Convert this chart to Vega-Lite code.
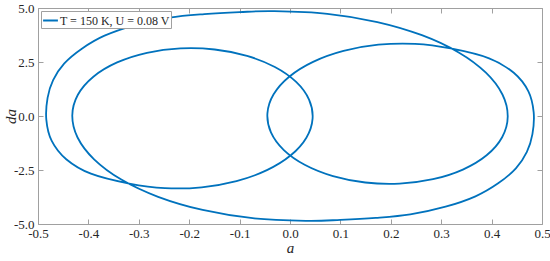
{
  "$schema": "https://vega.github.io/schema/vega-lite/v6.json",
  "width": 504,
  "height": 216,
  "autosize": {"type": "none"},
  "padding": {"left": 38, "top": 8, "right": 8, "bottom": 37},
  "background": "white",
  "config": {
    "view": {"stroke": null},
    "font": "Liberation Serif, Times New Roman, serif",
    "axis": {
      "domainColor": "#a0a0a0",
      "tickColor": "#a0a0a0",
      "labelColor": "#262626",
      "titleColor": "#262626",
      "labelFont": "Liberation Serif, Times New Roman, serif",
      "titleFont": "Liberation Serif, Times New Roman, serif",
      "labelFontSize": 13,
      "titleFontSize": 15,
      "titleFontWeight": "normal",
      "titleFontStyle": "italic",
      "grid": false,
      "tickSize": -5,
      "domainWidth": 1,
      "tickWidth": 1
    }
  },
  "data": {
    "values": [
      {"i": 1, "a": -0.481, "da": 0.842},
      {"i": 2, "a": -0.47, "da": 1.659},
      {"i": 3, "a": -0.4482, "da": 2.4255},
      {"i": 4, "a": -0.413, "da": 3.1176},
      {"i": 5, "a": -0.368, "da": 3.72},
      {"i": 6, "a": -0.3087, "da": 4.2},
      {"i": 7, "a": -0.2387, "da": 4.557},
      {"i": 8, "a": -0.17, "da": 4.72},
      {"i": 9, "a": -0.1, "da": 4.81},
      {"i": 10, "a": -0.031, "da": 4.851},
      {"i": 11, "a": 0.0741, "da": 4.729},
      {"i": 12, "a": 0.1733, "da": 4.35},
      {"i": 13, "a": 0.2617, "da": 3.741},
      {"i": 14, "a": 0.3347, "da": 2.942},
      {"i": 15, "a": 0.3887, "da": 2.005},
      {"i": 16, "a": 0.4215, "da": 0.995},
      {"i": 17, "a": 0.432, "da": -0.023},
      {"i": 18, "a": 0.4209, "da": -0.982},
      {"i": 19, "a": 0.3901, "da": -1.819},
      {"i": 20, "a": 0.343, "da": -2.48},
      {"i": 21, "a": 0.2838, "da": -2.926},
      {"i": 22, "a": 0.2175, "da": -3.128},
      {"i": 23, "a": 0.1494, "da": -3.078},
      {"i": 24, "a": 0.0853, "da": -2.783},
      {"i": 25, "a": 0.03, "da": -2.27},
      {"i": 26, "a": -0.0122, "da": -1.578},
      {"i": 27, "a": -0.0378, "da": -0.76},
      {"i": 28, "a": -0.0448, "da": 0.123},
      {"i": 29, "a": -0.0325, "da": 1.005},
      {"i": 30, "a": -0.0016, "da": 1.82},
      {"i": 31, "a": 0.0458, "da": 2.508},
      {"i": 32, "a": 0.1062, "da": 3.014},
      {"i": 33, "a": 0.1753, "da": 3.3},
      {"i": 34, "a": 0.2481, "da": 3.34},
      {"i": 35, "a": 0.3189, "da": 3.127},
      {"i": 36, "a": 0.395, "da": 2.67},
      {"i": 37, "a": 0.444, "da": 2.0},
      {"i": 38, "a": 0.473, "da": 1.14},
      {"i": 39, "a": 0.4835, "da": 0.164},
      {"i": 40, "a": 0.481, "da": -0.842},
      {"i": 41, "a": 0.47, "da": -1.659},
      {"i": 42, "a": 0.4482, "da": -2.4255},
      {"i": 43, "a": 0.413, "da": -3.1176},
      {"i": 44, "a": 0.368, "da": -3.72},
      {"i": 45, "a": 0.3087, "da": -4.2},
      {"i": 46, "a": 0.2387, "da": -4.557},
      {"i": 47, "a": 0.17, "da": -4.72},
      {"i": 48, "a": 0.1, "da": -4.81},
      {"i": 49, "a": 0.031, "da": -4.851},
      {"i": 50, "a": -0.0741, "da": -4.729},
      {"i": 51, "a": -0.1733, "da": -4.35},
      {"i": 52, "a": -0.2617, "da": -3.741},
      {"i": 53, "a": -0.3347, "da": -2.942},
      {"i": 54, "a": -0.3887, "da": -2.005},
      {"i": 55, "a": -0.4215, "da": -0.995},
      {"i": 56, "a": -0.432, "da": 0.023},
      {"i": 57, "a": -0.4209, "da": 0.982},
      {"i": 58, "a": -0.3901, "da": 1.819},
      {"i": 59, "a": -0.343, "da": 2.48},
      {"i": 60, "a": -0.2838, "da": 2.926},
      {"i": 61, "a": -0.2175, "da": 3.128},
      {"i": 62, "a": -0.1494, "da": 3.078},
      {"i": 63, "a": -0.0853, "da": 2.783},
      {"i": 64, "a": -0.03, "da": 2.27},
      {"i": 65, "a": 0.0122, "da": 1.578},
      {"i": 66, "a": 0.0378, "da": 0.76},
      {"i": 67, "a": 0.0448, "da": -0.123},
      {"i": 68, "a": 0.0325, "da": -1.005},
      {"i": 69, "a": 0.0016, "da": -1.82},
      {"i": 70, "a": -0.0458, "da": -2.508},
      {"i": 71, "a": -0.1062, "da": -3.014},
      {"i": 72, "a": -0.1753, "da": -3.3},
      {"i": 73, "a": -0.2481, "da": -3.34},
      {"i": 74, "a": -0.3189, "da": -3.127},
      {"i": 75, "a": -0.395, "da": -2.67},
      {"i": 76, "a": -0.444, "da": -2.0},
      {"i": 77, "a": -0.473, "da": -1.14},
      {"i": 78, "a": -0.4835, "da": -0.164}
    ]
  },
  "layer": [
    {
      "mark": {"type": "line", "interpolate": "cardinal-closed", "tension": 0, "strokeWidth": 1.8},
      "encoding": {
        "x": {
          "field": "a", "type": "quantitative",
          "scale": {"domain": [-0.5, 0.5], "nice": false, "zero": false},
          "axis": {"orient": "bottom", "values": [-0.5, -0.4, -0.3, -0.2, -0.1, 0, 0.1, 0.2, 0.3, 0.4, 0.5], "labelExpr": "replace(format(datum.value, '.1f'), '\u2212', '-')", "labelPadding": 8, "title": "a", "titlePadding": 0, "labelFlush": false}
        },
        "y": {
          "field": "da", "type": "quantitative",
          "scale": {"domain": [-5, 5], "nice": false, "zero": false},
          "axis": {"orient": "left", "values": [-5, -2.5, 0, 2.5, 5], "labelExpr": "replace(format(datum.value, '.1f'), '\u2212', '-')", "labelPadding": 9, "title": "da", "titleX": -28, "titleY": 108, "titleAngle": -90, "titleAlign": "center", "titleBaseline": "middle", "labelFlush": false}
        },
        "order": {"field": "i", "type": "quantitative"},
        "color": {
          "datum": "T = 150 K, U = 0.08 V",
          "scale": {"range": ["#0072BD"]},
          "legend": {
            "title": null, "orient": "top-left", "offset": 3,
            "symbolType": "stroke", "symbolStrokeWidth": 2, "symbolSize": 220,
            "labelFont": "Liberation Serif, Times New Roman, serif", "labelFontSize": 12, "labelColor": "#262626",
            "labelOffset": 1, "strokeColor": "#a0a0a0", "fillColor": "white", "padding": 1
          }
        }
      }
    },
    {
      "mark": {"type": "line", "opacity": 0},
      "encoding": {
        "x": {"field": "a", "type": "quantitative", "axis": {"orient": "top", "values": [-0.5, -0.4, -0.3, -0.2, -0.1, 0, 0.1, 0.2, 0.3, 0.4, 0.5], "labels": false, "title": null}},
        "y": {"field": "da", "type": "quantitative", "axis": {"orient": "right", "values": [-5, -2.5, 0, 2.5, 5], "labels": false, "title": null}},
        "order": {"field": "i", "type": "quantitative"}
      }
    }
  ],
  "resolve": {"axis": {"x": "independent", "y": "independent"}}
}
